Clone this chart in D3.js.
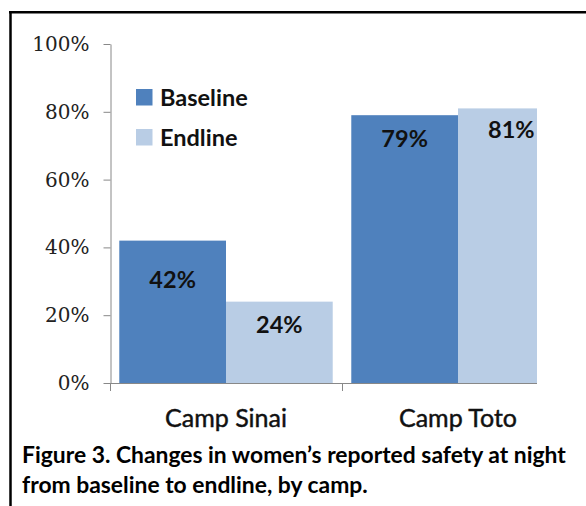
<!DOCTYPE html>
<html>
<head>
<meta charset="utf-8">
<script src="https://cdn.jsdelivr.net/npm/d3@7"></script>
<style>
  html, body { margin: 0; padding: 0; background: #fff; }
  svg { display: block; }
</style>
</head>
<body>
<svg id="chart" width="586" height="506"></svg>
<script>
// ---- data ----
const categories = ["Camp Sinai", "Camp Toto"];
const seriesNames = ["Baseline", "Endline"];
const baselineValues = [42, 79];
const endlineValues = [24, 81];
const yTickValues = [0, 20, 40, 60, 80, 100];
const captionLines = [
  "Figure 3. Changes in women\u2019s reported safety at night",
  "from baseline to endline, by camp."
];

// ---- styles ----
const colors = { Baseline: "#4F81BD", Endline: "#B9CDE5" };
const axisColor = "#888888";
const sansFont = "Lato, 'Open Sans', sans-serif";
const serifFont = "'DejaVu Serif', serif";

const svg = d3.select("#chart");

// frame (left and top border)
svg.append("line").attr("x1", 10.5).attr("x2", 10.5).attr("y1", 11).attr("y2", 506)
  .attr("stroke", "#000").attr("stroke-width", 2.5);
svg.append("line").attr("x1", 9).attr("x2", 586).attr("y1", 12.2).attr("y2", 12.2)
  .attr("stroke", "#000").attr("stroke-width", 2.5);

// scales
const y = d3.scaleLinear().domain([0, 100]).range([383, 44]);
const x = d3.scaleBand().domain(categories).range([110, 574])
  .paddingInner(0.08).paddingOuter(0.04);
const xs = d3.scaleBand().domain(seriesNames).range([0, x.bandwidth()]).padding(0);
const plotRight = 537; // plot area is cut off on the right in the source

svg.append("defs").append("clipPath").attr("id", "plotclip")
  .append("rect").attr("x", 0).attr("y", 0).attr("width", plotRight).attr("height", 506);

const rows = categories.map((c, i) => ({
  cat: c,
  values: [
    { s: "Baseline", v: baselineValues[i] },
    { s: "Endline", v: endlineValues[i] }
  ]
}));

// bars
const plot = svg.append("g").attr("clip-path", "url(#plotclip)");
const groups = plot.selectAll("g.cat").data(rows).join("g")
  .attr("class", "cat")
  .attr("transform", d => `translate(${x(d.cat)},0)`);
groups.selectAll("rect").data(d => d.values).join("rect")
  .attr("x", d => xs(d.s))
  .attr("y", d => y(d.v))
  .attr("width", xs.bandwidth())
  .attr("height", d => y(0) - y(d.v))
  .attr("fill", d => colors[d.s]);

// value labels
const labelDrop = { "Camp Sinai|Baseline": 47, "Camp Sinai|Endline": 31.5, "Camp Toto|Baseline": 32, "Camp Toto|Endline": 29.5 };
groups.selectAll("text").data(d => d.values.map(v => ({ ...v, cat: d.cat }))).join("text")
  .attr("x", d => xs(d.s) + xs.bandwidth() / 2)
  .attr("y", d => y(d.v) + labelDrop[d.cat + "|" + d.s])
  .attr("text-anchor", "middle")
  .attr("font-family", sansFont)
  .attr("font-weight", "bold")
  .attr("font-size", 23.5)
  .attr("fill", "#111")
  .text(d => d.v + "%");

// y axis
const yAxis = d3.axisLeft(y).tickValues(yTickValues).tickFormat(d => d + "%")
  .tickSize(7).tickSizeOuter(0).tickPadding(14);
const yg = svg.append("g").attr("transform", "translate(110.5,0)").call(yAxis);
yg.selectAll("path, line").attr("stroke", axisColor);
yg.selectAll("text").attr("font-family", serifFont).attr("font-size", 20).attr("fill", "#222");

// x axis
const xg = svg.append("g");
xg.append("line").attr("x1", 110).attr("x2", plotRight).attr("y1", y(0) + 0.5).attr("y2", y(0) + 0.5)
  .attr("stroke", axisColor);
const boundaries = categories.map(c => x(c) - x.paddingOuter() * x.step());
xg.selectAll("line.tick").data(boundaries).join("line")
  .attr("class", "tick")
  .attr("x1", d => d + 0.5).attr("x2", d => d + 0.5)
  .attr("y1", y(0)).attr("y2", y(0) + 8)
  .attr("stroke", axisColor);
xg.selectAll("text").data(categories).join("text")
  .attr("x", d => x(d) + x.bandwidth() / 2)
  .attr("y", 427)
  .attr("text-anchor", "middle")
  .attr("font-family", sansFont)
  .attr("font-size", 25)
  .attr("fill", "#111")
  .attr("stroke", "#111")
  .attr("stroke-width", 0.45)
  .text(d => d);

// legend
const legend = svg.append("g").attr("transform", "translate(136,89)");
const li = legend.selectAll("g").data(seriesNames).join("g")
  .attr("transform", (d, i) => `translate(0,${i * 40})`);
li.append("rect").attr("width", 16.5).attr("height", 16.5).attr("fill", d => colors[d]);
li.append("text").attr("x", 24).attr("y", 16.5)
  .attr("font-family", sansFont).attr("font-weight", "bold").attr("font-size", 23.5)
  .attr("fill", "#111").text(d => d);

// caption
const cap = svg.append("g");
const capTexts = cap.selectAll("text").data(captionLines).join("text")
  .attr("x", 22)
  .attr("y", (d, i) => 463 + i * 29.5)
  .attr("font-family", sansFont).attr("font-weight", "bold").attr("font-size", 20)
  .attr("fill", "#000").text(d => d);
// fit first caption line to the width of the original figure caption
const w0 = capTexts.node().getComputedTextLength();
const fs = 20 * 544 / w0;
capTexts.attr("font-size", fs);
</script>
</body>
</html>
